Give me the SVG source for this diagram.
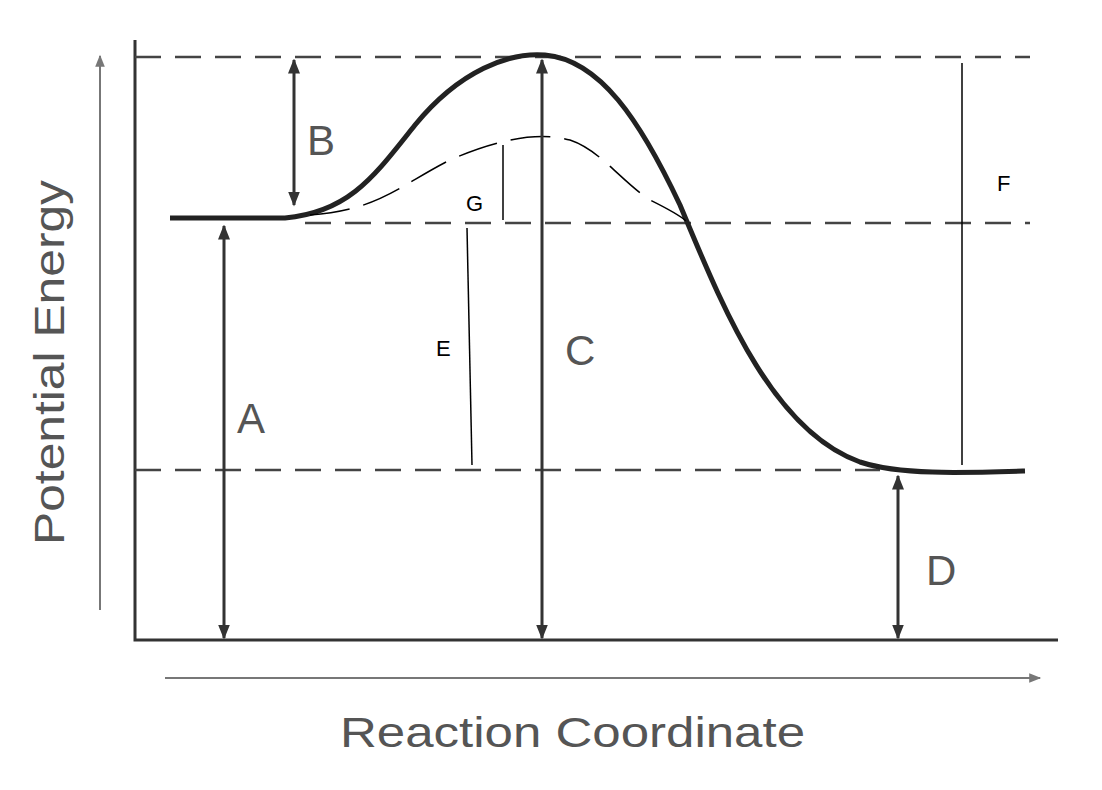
<svg xmlns="http://www.w3.org/2000/svg" width="1102" height="790" viewBox="0 0 1102 790">
<style>
.ax{stroke:#333;stroke-width:3;fill:none}
.ds{stroke:#444;stroke-width:2.5;stroke-dasharray:26 14;fill:none}
.ar{stroke:#333;stroke-width:3;fill:none;marker-start:url(#h);marker-end:url(#h)}
.th{stroke:#000;stroke-width:1.5;fill:none}
.big{font-family:"Liberation Sans",Arial,sans-serif;font-size:42px;fill:#555}
.sm{font-family:"Liberation Sans",Arial,sans-serif;font-size:22px;fill:#000}
</style>
<defs>
<marker id="h" viewBox="0 0 10 10" refX="9" refY="5" markerWidth="5" markerHeight="6" orient="auto-start-reverse" markerUnits="strokeWidth"><path d="M0,1 L10,5 L0,9 Z" fill="#333"/></marker>
<marker id="g" viewBox="0 0 10 10" refX="9" refY="5" markerWidth="8" markerHeight="6" orient="auto" markerUnits="strokeWidth"><path d="M0,1 L10,5 L0,9 Z" fill="#777"/></marker>
</defs>
<rect width="1102" height="790" fill="#fff"/>
<g id="connectors">
<line x1="100" y1="610" x2="100" y2="56" stroke="#777" stroke-width="2" marker-end="url(#g)"/>
<line x1="165" y1="678" x2="1040" y2="678" stroke="#777" stroke-width="2" marker-end="url(#g)"/>
<path class="ax" d="M135,40 V640 H1058"/>
<line class="ds" x1="135" y1="57" x2="1030" y2="57"/>
<line class="ds" x1="305" y1="223" x2="1030" y2="223"/>
<line class="ds" x1="135" y1="470" x2="880" y2="470"/>
<path stroke="#222" stroke-width="5" fill="none" d="M170,218 L285,218 C350,212 375,175 415,125 C460,70 510,52 545,55 C600,60 640,120 680,205 C720,300 770,430 860,462 C900,475 960,473 1025,471"/>
<path class="th" stroke-dasharray="40 14" d="M310,215 C380,210 400,185 450,160 C500,138 540,132 570,140 C600,150 620,180 650,200 C670,210 680,215 687,222"/>
<line class="ar" x1="224" y1="226" x2="224" y2="638"/>
<line class="ar" x1="294" y1="60" x2="294" y2="205"/>
<line class="ar" x1="542" y1="60" x2="542" y2="638"/>
<line class="ar" x1="898" y1="476" x2="898" y2="638"/>
<line class="th" x1="467" y1="228" x2="472" y2="465"/>
<line class="th" x1="503" y1="145" x2="503" y2="220"/>
<line class="th" x1="962" y1="63" x2="962" y2="465"/>
</g>
<g id="labels">
<text class="big" x="307" y="155">B</text>
<text class="big" x="237" y="433">A</text>
<text class="big" x="565" y="365">C</text>
<text class="big" x="926" y="585">D</text>
<text class="sm" x="436" y="356">E</text>
<text class="sm" x="466" y="211">G</text>
<text class="sm" x="997" y="191">F</text>
<text class="big" x="340" y="747" textLength="465" lengthAdjust="spacingAndGlyphs">Reaction Coordinate</text>
<text class="big" transform="translate(64,545) rotate(-90)" textLength="365" lengthAdjust="spacingAndGlyphs">Potential Energy</text>
</g>
</svg>
